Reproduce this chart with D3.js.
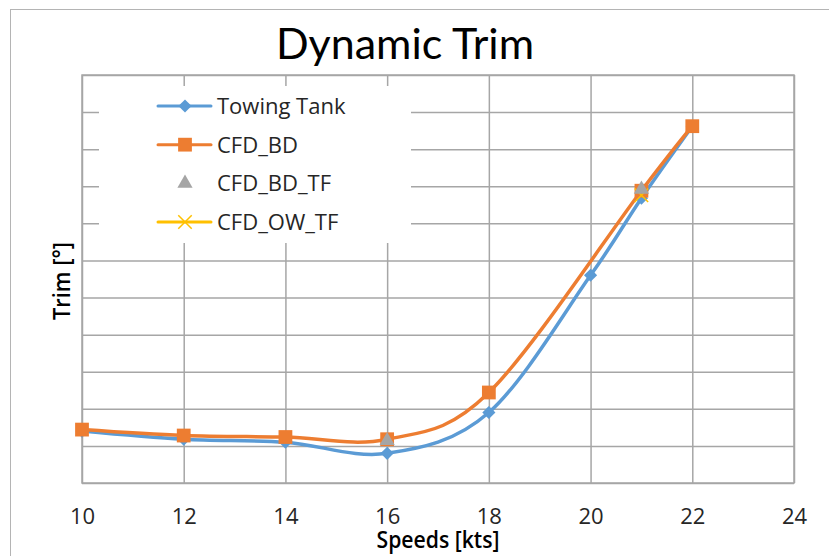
<!DOCTYPE html>
<html>
<head>
<meta charset="utf-8">
<script src="https://cdn.jsdelivr.net/npm/d3@7"></script>
<style>
  html, body { margin: 0; padding: 0; background: #ffffff; }
  svg { display: block; font-family: "Open Sans", "Lato", sans-serif; }
</style>
</head>
<body>
<svg id="chart" width="829" height="556"></svg>
<script>
// Speeds [kts] and dynamic trim [°] per series
const speeds = [10, 12, 14, 16, 18, 20, 21, 22];
const towingTank = [0.70, 0.59, 0.55, 0.40, 0.95, 2.80, 3.84, 4.81];

const cfdBDSpeeds = [10, 12, 14, 16, 18, 21, 22];
const cfdBD = [0.72, 0.64, 0.62, 0.59, 1.22, 3.94, 4.81];

const cfdBDTFSpeeds = [16, 21];
const cfdBDTF = [0.57, 3.96];

const cfdOWTFSpeeds = [21];
const cfdOWTF = [3.88];

const xTicks = [10, 12, 14, 16, 18, 20, 22, 24];
const yTicks = [0, 0.5, 1, 1.5, 2, 2.5, 3, 3.5, 4, 4.5, 5, 5.5];

const legendNames = ["Towing Tank", "CFD_BD", "CFD_BD_TF", "CFD_OW_TF"];

const colors = { tank: "#5B9BD5", bd: "#ED7D31", bdtf: "#A5A5A5", owtf: "#FFC000" };

const svg = d3.select("#chart");
const plot = { left: 82, top: 75, right: 794, bottom: 483 };

// Chart frame
svg.append("rect")
  .attr("x", 10.5).attr("y", 9.5)
  .attr("width", 840).attr("height", 560)
  .attr("fill", "#fff").attr("stroke", "#b4b4b4").attr("stroke-width", 1);

const x = d3.scaleLinear().domain([10, 24]).range([plot.left, plot.right]);
const y = d3.scaleLinear().domain([0, 5.5]).range([plot.bottom, plot.top]);

// Gridlines
const gridColor = "#a6a6a6";
svg.append("g")
  .attr("transform", `translate(0,${plot.bottom})`)
  .call(d3.axisBottom(x).tickValues(xTicks).tickSize(-(plot.bottom - plot.top)).tickFormat(""))
  .call(g => g.select(".domain").remove())
  .call(g => g.selectAll("line").attr("stroke", gridColor).attr("stroke-width", 1.5));

svg.append("g")
  .attr("transform", `translate(${plot.left},0)`)
  .call(d3.axisLeft(y).tickValues(yTicks).tickSize(-(plot.right - plot.left)).tickFormat(""))
  .call(g => g.select(".domain").remove())
  .call(g => g.selectAll("line").attr("stroke", gridColor).attr("stroke-width", 1.5));

// Plot area outline
svg.append("rect")
  .attr("x", plot.left).attr("y", plot.top)
  .attr("width", plot.right - plot.left).attr("height", plot.bottom - plot.top)
  .attr("fill", "none").attr("stroke", gridColor).attr("stroke-width", 1.5);

// X tick labels
svg.append("g")
  .attr("transform", `translate(0,${plot.bottom})`)
  .call(d3.axisBottom(x).tickValues(xTicks).tickSize(0).tickPadding(25).tickFormat(d3.format("d")))
  .call(g => g.select(".domain").remove())
  .call(g => g.selectAll("text")
    .attr("font-family", "'Open Sans', Lato, sans-serif")
    .attr("font-size", 22).attr("fill", "#262626"));

// Titles
svg.append("text")
  .attr("x", 405).attr("y", 59)
  .attr("text-anchor", "middle")
  .attr("font-family", "Lato, 'Open Sans', sans-serif")
  .attr("font-size", 43).attr("fill", "#000")
  .text("Dynamic Trim");

svg.append("text")
  .attr("x", 438).attr("y", 548)
  .attr("text-anchor", "middle")
  .attr("font-size", 23).attr("font-weight", 600).attr("fill", "#000")
  .attr("textLength", 123).attr("lengthAdjust", "spacingAndGlyphs")
  .text("Speeds [kts]");

svg.append("text")
  .attr("transform", "translate(70,281) rotate(-90)")
  .attr("text-anchor", "middle")
  .attr("font-size", 24).attr("font-weight", 600).attr("fill", "#000")
  .attr("textLength", 78).attr("lengthAdjust", "spacingAndGlyphs")
  .text("Trim [°]");

// Legend
const legend = svg.append("g");
legend.append("rect")
  .attr("x", 99).attr("y", 86).attr("width", 312).attr("height", 157)
  .attr("fill", "#fff");

const legendY = d3.scalePoint().domain(legendNames).range([106, 222]);
const legendStyle = [
  { line: colors.tank, marker: "diamond", color: colors.tank },
  { line: colors.bd, marker: "square", color: colors.bd },
  { line: null, marker: "triangle", color: colors.bdtf },
  { line: colors.owtf, marker: "cross", color: colors.owtf }
];

function marker(sel, type, color) {
  const sym = {
    diamond: d3.symbol().type(d3.symbolDiamond2).size(110),
    square: d3.symbol().type(d3.symbolSquare).size(190),
    triangle: d3.symbol().type(d3.symbolTriangle).size(100)
  };
  if (type === "cross") {
    sel.append("path")
      .attr("d", d3.symbol().type(d3.symbolX).size(120)())
      .attr("stroke", color).attr("stroke-width", 1.5).attr("fill", "none");
  } else {
    sel.append("path").attr("d", sym[type]()).attr("fill", color);
  }
}

legendNames.forEach((name, i) => {
  const cy = legendY(name);
  const st = legendStyle[i];
  if (st.line) {
    legend.append("line")
      .attr("x1", 158).attr("x2", 211).attr("y1", cy).attr("y2", cy)
      .attr("stroke", st.line).attr("stroke-width", 3).attr("stroke-linecap", "round");
  }
  marker(legend.append("g").attr("transform", `translate(185,${cy})`), st.marker, st.color);
  legend.append("text")
    .attr("x", 217).attr("y", cy + 8)
    .attr("font-size", 22).attr("fill", "#262626")
    .text(name);
});

// Series lines (smoothed)
const line = d3.line()
  .x(d => x(d[0])).y(d => y(d[1]))
  .curve(d3.curveCardinal.tension(0));

const tankPts = d3.zip(speeds, towingTank);
const bdPts = d3.zip(cfdBDSpeeds, cfdBD);
const bdtfPts = d3.zip(cfdBDTFSpeeds, cfdBDTF);
const owtfPts = d3.zip(cfdOWTFSpeeds, cfdOWTF);

svg.append("path").datum(tankPts).attr("d", line)
  .attr("fill", "none").attr("stroke", colors.tank).attr("stroke-width", 3.5);
svg.append("g").selectAll("g").data(tankPts).join("g")
  .attr("transform", d => `translate(${x(d[0])},${y(d[1])})`)
  .each(function () { marker(d3.select(this), "diamond", colors.tank); });

svg.append("path").datum(bdPts).attr("d", line)
  .attr("fill", "none").attr("stroke", colors.bd).attr("stroke-width", 3.5);
svg.append("g").selectAll("g").data(bdPts).join("g")
  .attr("transform", d => `translate(${x(d[0])},${y(d[1])})`)
  .each(function () { marker(d3.select(this), "square", colors.bd); });

svg.append("g").selectAll("g").data(owtfPts).join("g")
  .attr("transform", d => `translate(${x(d[0])},${y(d[1])})`)
  .each(function () { marker(d3.select(this), "cross", colors.owtf); });

svg.append("g").selectAll("g").data(bdtfPts).join("g")
  .attr("transform", d => `translate(${x(d[0])},${y(d[1])})`)
  .each(function () { marker(d3.select(this), "triangle", colors.bdtf); });
</script>
</body>
</html>
